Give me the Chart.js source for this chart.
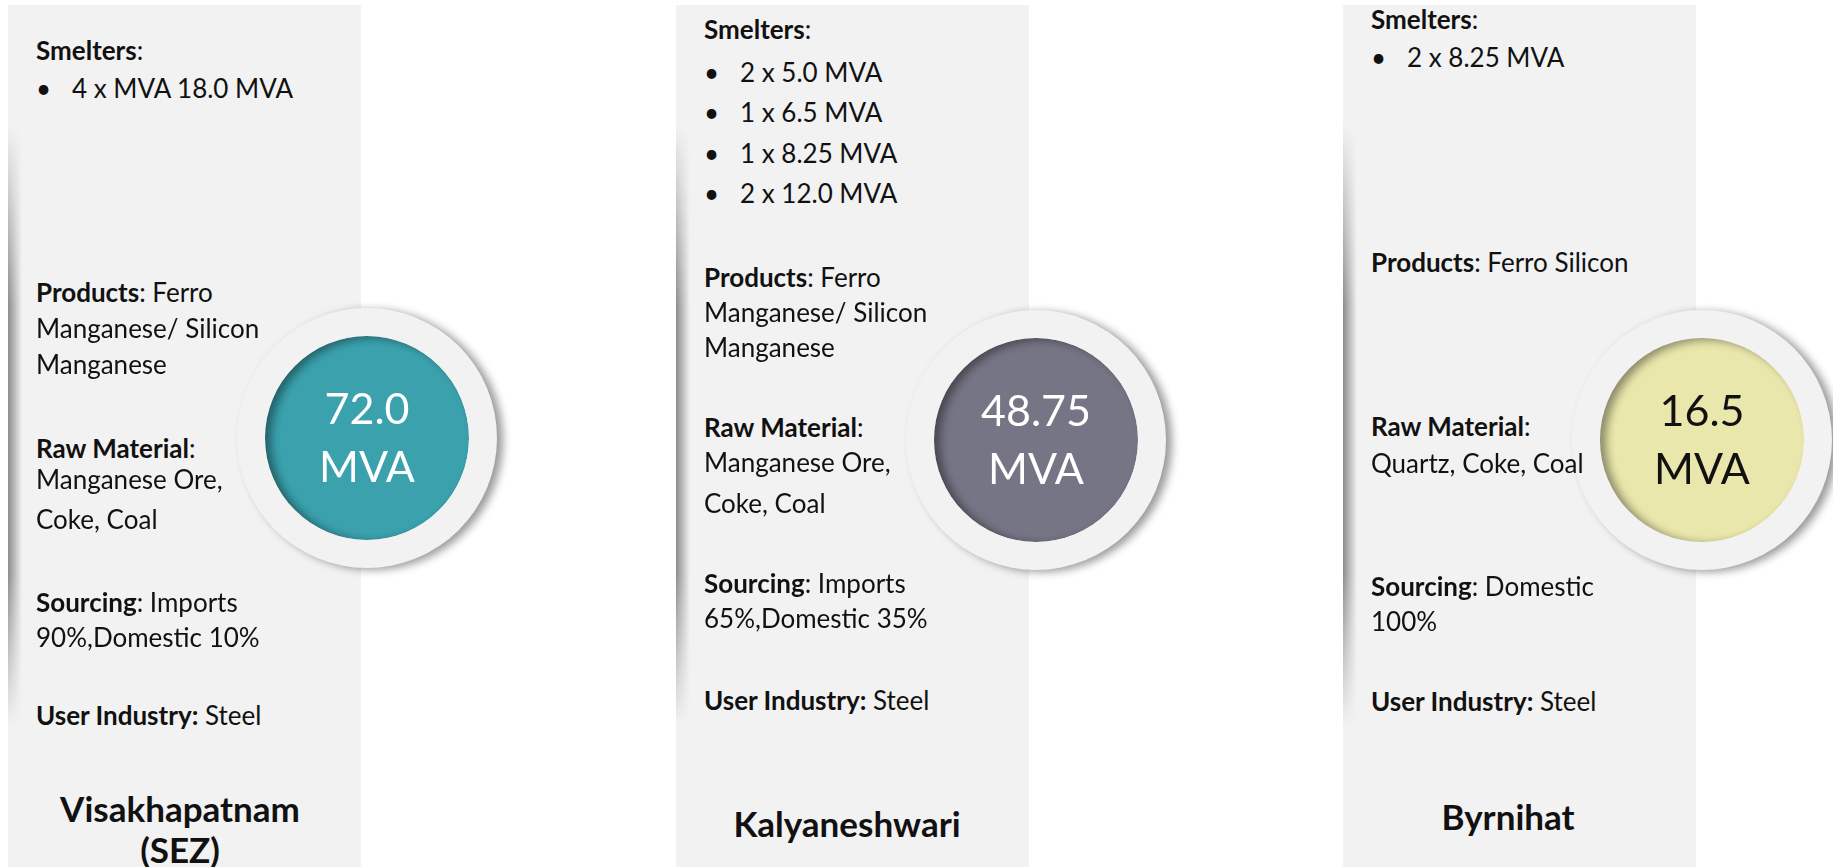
<!DOCTYPE html>
<html>
<head>
<meta charset="utf-8">
<script src="https://cdn.jsdelivr.net/npm/chart.js@4/dist/chart.umd.min.js"></script>
<style>
  html, body { margin: 0; padding: 0; background: #fff; }
  body { width: 1833px; height: 867px; position: relative; overflow: hidden; font-family: 'Lato', 'Noto Sans', sans-serif; color: #111; }
  .panel { position: absolute; width: 353px; top: 5px; height: 870px; background: #f2f2f2; }
  .edge { position: absolute; left: 0; top: 120px; width: 14px; height: 600px;
    background: linear-gradient(to right, rgba(0,0,0,0.42), rgba(0,0,0,0));
    -webkit-mask-image: linear-gradient(to bottom, transparent, #000 30%, #000 75%, transparent);
    mask-image: linear-gradient(to bottom, transparent, #000 30%, #000 75%, transparent); }
  .line { position: absolute; z-index: 2; font-size: 26px; line-height: 32px; white-space: nowrap; transform: translateY(-50%); }
  .line b { font-weight: 700; }
  .dot { position: absolute; left: 0; }
  .title { position: absolute; z-index: 2; font-size: 35px; font-weight: 700; text-align: center; white-space: nowrap; transform: translate(-50%, -50%); line-height: 41px; }
  .ring { position: absolute; z-index: 1; width: 300px; height: 300px; }
</style>
</head>
<body>
<script>
// plant data
const sites = ['Visakhapatnam\n(SEZ)', 'Kalyaneshwari', 'Byrnihat'];
const capacityMVA = [72.0, 48.75, 16.5];
const smelters = [
  ['4 x MVA 18.0 MVA'],
  ['2 x 5.0 MVA', '1 x 6.5 MVA', '1 x 8.25 MVA', '2 x 12.0 MVA'],
  ['2 x 8.25 MVA']
];
const products = [
  ['Ferro', 'Manganese/ Silicon', 'Manganese'],
  ['Ferro', 'Manganese/ Silicon', 'Manganese'],
  ['Ferro Silicon']
];
const rawMaterials = [
  ['', 'Manganese Ore,', 'Coke, Coal'],
  ['', 'Manganese Ore,', 'Coke, Coal'],
  ['', 'Quartz, Coke, Coal']
];
const sourcing = [
  ['Imports', '90%,Domestic 10%'],
  ['Imports', '65%,Domestic 35%'],
  ['Domestic', '100%']
];
const userIndustry = ['Steel', 'Steel', 'Steel'];

const circleColors = ['#3aa1ad', '#767585', '#e9e7ab'];
const circleText = ['#ffffff', '#ffffff', '#111111'];

// layout
const panelX = [8, 676, 1343];
const circleCenter = [[367, 438], [1036, 440], [1702, 440]];
const titleX = [180, 847, 1508];
const rowY = [
  { sm: 50, bul: [88], prod: [292, 328, 364], raw: [448, 479, 519], src: [602, 637], user: 715, title: 829 },
  { sm: 29, bul: [72, 112, 153, 193], prod: [277, 312, 347], raw: [427, 462, 503], src: [583, 618], user: 700, title: 823 },
  { sm: 19, bul: [57], prod: [262], raw: [426, 463], src: [586, 621], user: 701, title: 816 }
];

function addLine(x, y, html) {
  const d = document.createElement('div');
  d.className = 'line';
  d.style.left = x + 'px';
  d.style.top = y + 'px';
  d.innerHTML = html;
  document.body.appendChild(d);
  return d;
}

function block(x, ys, label, lines) {
  lines.forEach((t, i) => {
    const html = i === 0 ? '<b>' + label + '</b>: ' + t : t;
    addLine(x, ys[i], html);
  });
}

sites.forEach((site, i) => {
  const p = document.createElement('div');
  p.className = 'panel';
  p.style.left = panelX[i] + 'px';
  p.innerHTML = '<div class="edge"></div>';
  document.body.appendChild(p);

  const x = panelX[i] + 28;
  const r = rowY[i];
  addLine(x, r.sm, '<b>Smelters</b>:');
  smelters[i].forEach((s, j) => {
    addLine(x, r.bul[j], '<span class="dot">•</span><span style="padding-left:36px">' + s + '</span>');
  });
  block(x, r.prod, 'Products', products[i]);
  block(x, r.raw, 'Raw Material', rawMaterials[i]);
  block(x, r.src, 'Sourcing', sourcing[i]);
  addLine(x, r.user, '<b>User Industry:</b> ' + userIndustry[i]);

  const t = document.createElement('div');
  t.className = 'title';
  t.style.left = titleX[i] + 'px';
  t.style.top = r.title + 'px';
  t.innerHTML = site.replace('\n', '<br>');
  document.body.appendChild(t);
});

const ringShadow = {
  id: 'ringShadow',
  beforeDatasetDraw(chart, args) {
    if (args.index !== 0) return;
    const ctx = chart.ctx;
    ctx.save();
    ctx.shadowColor = 'rgba(0,0,0,0.4)';
    ctx.shadowBlur = 9;
    ctx.shadowOffsetX = 6;
    ctx.shadowOffsetY = 2;
  },
  afterDatasetDraw(chart, args) {
    if (args.index === 0) chart.ctx.restore();
  }
};

const centerLabel = {
  id: 'centerLabel',
  afterDraw(chart) {
    const ctx = chart.ctx;
    const arc = chart.getDatasetMeta(1).data[0];
    const v = chart.data.datasets[1].data[0];
    const txt = Number.isInteger(v) ? v.toFixed(1) : String(v);
    ctx.save();
    ctx.fillStyle = chart.options.plugins.centerLabel.color;
    ctx.font = '43px Lato, sans-serif';
    ctx.textAlign = 'center';
    ctx.textBaseline = 'middle';
    ctx.fillText(txt, arc.x, arc.y - 28);
    ctx.fillText('MVA', arc.x, arc.y + 30);
    ctx.restore();
  }
};

capacityMVA.forEach((v, i) => {
  const c = document.createElement('canvas');
  c.className = 'ring';
  c.width = 300;
  c.height = 300;
  c.style.left = (circleCenter[i][0] - 150) + 'px';
  c.style.top = (circleCenter[i][1] - 150) + 'px';
  document.body.appendChild(c);

  new Chart(c.getContext('2d'), {
    type: 'doughnut',
    data: {
      labels: [sites[i]],
      datasets: [
        { data: [v], backgroundColor: ['#f2f2f2'], borderWidth: 0, weight: 28 },
        { data: [v], backgroundColor: [circleColors[i]], borderWidth: 0, weight: 102 }
      ]
    },
    options: {
      responsive: false,
      animation: false,
      cutout: 0,
      layout: { padding: 20 },
      plugins: {
        legend: { display: false },
        tooltip: { enabled: false },
        centerLabel: { color: circleText[i] }
      }
    },
    plugins: [ringShadow, centerLabel]
  });
});
</script>
</body>
</html>
